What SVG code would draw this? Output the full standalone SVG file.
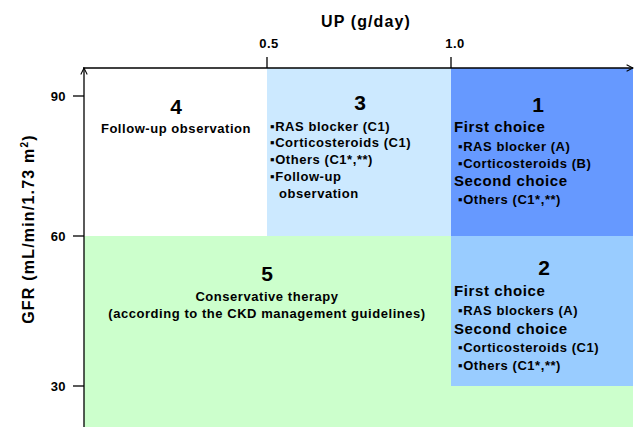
<svg xmlns="http://www.w3.org/2000/svg" width="636" height="427" viewBox="0 0 636 427">
<defs>
<style>
text{font-family:"Liberation Sans",Arial,sans-serif;font-weight:bold;fill:#000}
.num{font-size:21px;text-anchor:middle}
.t{font-size:13px;letter-spacing:0.55px}
.h{font-size:15px;letter-spacing:0.6px}
.ax{font-size:13px;letter-spacing:0.4px}
.c{text-anchor:middle}
.line{stroke:#000;stroke-width:1.3;fill:none}
</style>
<marker id="arr" viewBox="0 0 10 10" refX="9" refY="5" markerWidth="8" markerHeight="8" orient="auto" markerUnits="userSpaceOnUse">
<path d="M1,1 L9,5 L1,9" fill="none" stroke="#000" stroke-width="1.3"/>
</marker>
</defs>
<rect width="636" height="427" fill="#fff"/>
<g id="region5">
<rect x="84" y="236" width="549" height="191" fill="#CCFFCC"/>
<text class="num" x="267" y="281">5</text>
<text class="t c" x="267" y="301">Conservative therapy</text>
<text class="t c" x="267" y="318">(according to the CKD management guidelines)</text>
</g>
<g id="region4">
<rect x="84" y="68" width="183" height="168" fill="#fff"/>
<text class="num" x="176" y="114">4</text>
<text class="t c" x="176" y="133">Follow-up observation</text>
</g>
<g id="region3">
<rect x="267" y="68" width="184" height="168" fill="#CCE9FF"/>
<text class="num" x="360" y="110">3</text>
<text class="t" x="270" y="131">▪RAS blocker (C1)</text>
<text class="t" x="270" y="147">▪Corticosteroids (C1)</text>
<text class="t" x="270" y="164">▪Others (C1*,**)</text>
<text class="t" x="270" y="181">▪Follow-up</text>
<text class="t" x="279" y="198">observation</text>
</g>
<g id="region1">
<rect x="451" y="68" width="182" height="168" fill="#6699FF"/>
<text class="num" x="538" y="112">1</text>
<text class="h" x="454" y="132">First choice</text>
<text class="t" x="458" y="151">▪RAS blocker (A)</text>
<text class="t" x="458" y="168">▪Corticosteroids (B)</text>
<text class="h" x="454" y="186">Second choice</text>
<text class="t" x="458" y="204">▪Others (C1*,**)</text>
</g>
<g id="region2">
<rect x="451" y="236" width="182" height="150" fill="#99CCFF"/>
<text class="num" x="544" y="275">2</text>
<text class="h" x="454" y="296">First choice</text>
<text class="t" x="458" y="315">▪RAS blockers (A)</text>
<text class="h" x="454" y="334">Second choice</text>
<text class="t" x="458" y="352">▪Corticosteroids (C1)</text>
<text class="t" x="458" y="370">▪Others (C1*,**)</text>
</g>
<g id="axes">
<line class="line" x1="83" y1="68" x2="633" y2="68" marker-end="url(#arr)"/>
<line class="line" x1="84" y1="427" x2="84" y2="68" marker-end="url(#arr)"/>
<line class="line" x1="267" y1="57" x2="267" y2="68"/>
<line class="line" x1="451" y1="57" x2="451" y2="68"/>
<line class="line" x1="73" y1="96" x2="84" y2="96"/>
<line class="line" x1="73" y1="236" x2="84" y2="236"/>
<line class="line" x1="73" y1="386" x2="84" y2="386"/>
</g>
<g id="labels">
<text class="c" x="366" y="27" style="font-size:16px;letter-spacing:1.1px">UP (g/day)</text>
<text class="ax c" x="269" y="48">0.5</text>
<text class="ax c" x="455" y="48">1.0</text>
<text class="ax" x="66" y="101" text-anchor="end">90</text>
<text class="ax" x="66" y="241" text-anchor="end">60</text>
<text class="ax" x="66" y="391" text-anchor="end">30</text>
<text class="c" transform="translate(34,229) rotate(-90)" style="font-size:16px;letter-spacing:1.2px">GFR (mL/min/1.73 m<tspan dy="-6" style="font-size:10px">2</tspan><tspan dy="6">)</tspan></text>
</g>
</svg>
